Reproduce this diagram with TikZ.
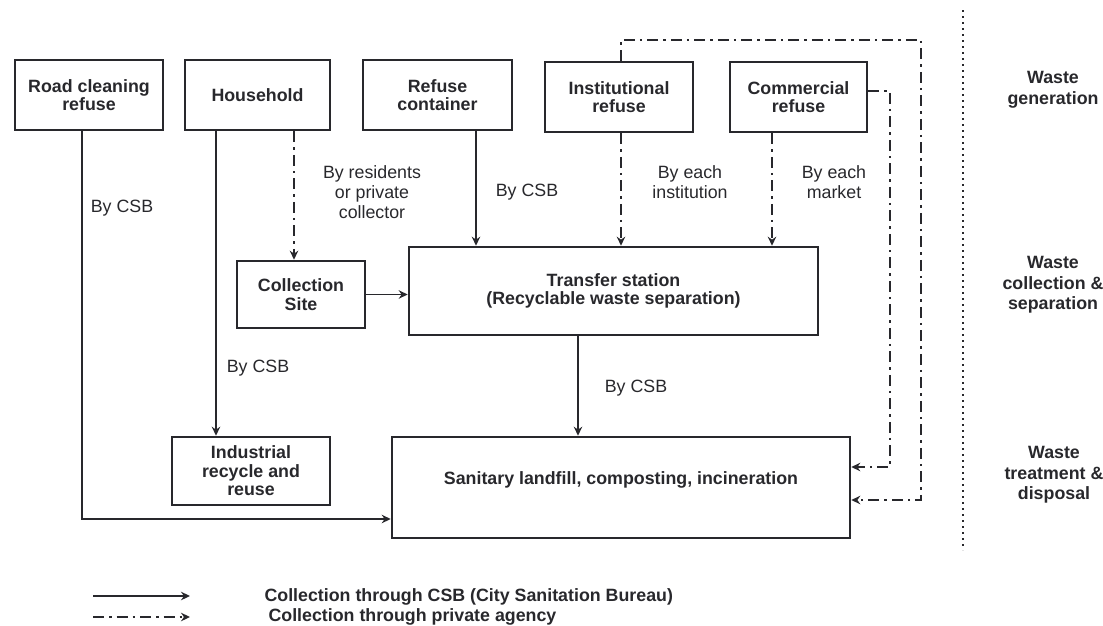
\documentclass[tikz,border=0pt]{standalone}
\usepackage{fontspec}
\setmainfont{Liberation Sans}
\usetikzlibrary{arrows.meta,positioning}
\definecolor{ink}{RGB}{40,40,44}

\begin{document}
\begin{tikzpicture}[x=1pt,y=-1pt,
  box/.style={draw=ink,line width=2.6pt,text=ink,align=center,inner sep=0pt,
    font=\bfseries\fontsize{17.8}{18.5}\selectfont},
  csb/.style={draw=ink,line width=1.9pt,-{Stealth[length=9pt,width=8.5pt]}},
  priv/.style={csb,dash pattern=on 11pt off 5pt on 2.5pt off 5pt},
  lbl/.style={text=ink,align=center,font=\fontsize{17.8}{20}\selectfont},
  stage/.style={text=ink,align=center,font=\bfseries\fontsize{17.8}{20.5}\selectfont}]

\useasboundingbox (0,0) rectangle (1103,625);

% waste generation
\node[box,minimum width=148,minimum height=70] (road) at (89,95) {Road cleaning\\refuse};
\node[box,minimum width=145,minimum height=70] (house) at (257.5,95) {Household};
\node[box,minimum width=149,minimum height=70] (cont) at (437.5,95) {Refuse\\container};
\node[box,minimum width=148,minimum height=70] (inst) at (619,97) {Institutional\\refuse};
\node[box,minimum width=137,minimum height=70] (comm) at (798.5,97) {Commercial\\refuse};

% collection and separation
\node[box,minimum width=128,minimum height=67] (site) at (301,294.5) {Collection\\Site};
\node[box,minimum width=409,minimum height=88] (trans) at (613.5,291) {Transfer station\\(Recyclable waste separation)};

% treatment and disposal
\node[box,minimum width=158,minimum height=68] (indus) at (251,471) {Industrial\\recycle and\\reuse};
\node[box,minimum width=458,minimum height=101] (land) at (621,487.5) {\raisebox{19pt}{Sanitary landfill, composting, incineration}};

% connectors
\draw[csb] (road.south -| 82,0) |- (land.west |- 0,519);
\draw[csb] (house.south -| 216,0) -- (indus.north -| 216,0);
\draw[priv] (house.south -| 294,0) -- (site.north -| 294,0);
\draw[csb] (site.east) -- (site.east -| trans.west);
\draw[csb] (cont.south -| 476,0) -- (trans.north -| 476,0);
\draw[priv] (inst.south -| 621,0) -- (trans.north -| 621,0);
\draw[priv] (comm.south -| 772,0) -- (trans.north -| 772,0);
\draw[csb] (trans.south -| 578,0) -- (land.north -| 578,0);
\draw[priv] (comm.east |- 0,91) -- (890,91) |- (land.east |- 0,467);
\draw[priv] (inst.north -| 621,0) |- (921,40) |- (land.east |- 0,500);

% labels
\node[lbl] (l1) at (122,208) {By CSB};
\node[lbl] (l2) at (258,368) {By CSB};
\node[lbl] (l3) at (372,192) {By residents\\or private\\collector};
\node[lbl] (l4) at (527,192) {By CSB};
\node[lbl] (l5) at (690,182) {By each\\institution};
\node[lbl] (l6) at (834,182) {By each\\market};
\node[lbl] (l7) at (636,388) {By CSB};

% stages
\draw[ink,line width=2pt,dash pattern=on 2pt off 4pt] (963,10) -- (963,550);
\node[stage] (s1) at (1053,90) {Waste\\generation};
\node[stage] (s2) at (1053,285) {Waste\\collection \&\\separation};
\node[stage] (s3) at (1054,475) {Waste\\treatment \&\\disposal};

% legend
\coordinate (k1) at (93,596);
\coordinate (k2) at (190,596);
\coordinate (k3) at (93,617);
\coordinate (k4) at (190,617);
\draw[csb] (k1) -- (k2);
\draw[priv] (k3) -- (k4);
\node[stage,anchor=west] (t1) at (261,597) {Collection through CSB (City Sanitation Bureau)};
\node[stage,anchor=west] (t2) at (265,617) {Collection through private agency};
\end{tikzpicture}
\end{document}
